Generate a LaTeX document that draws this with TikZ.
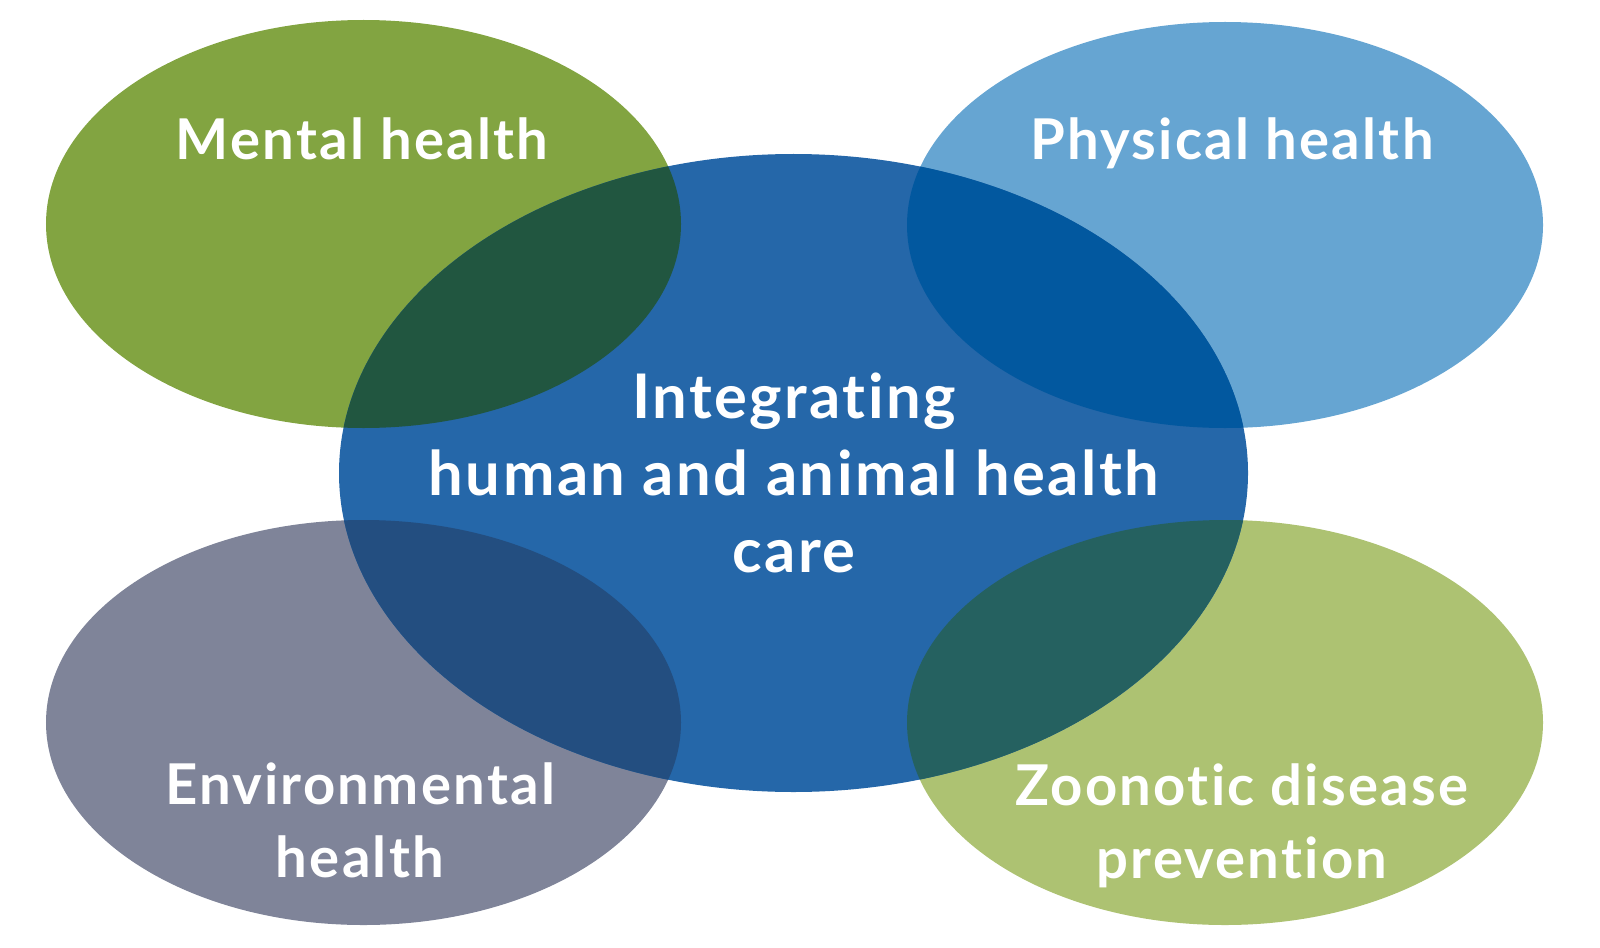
\documentclass[tikz,border=0pt]{standalone}
\usepackage{fontspec}
\setmainfont{Lato}[Ligatures=NoCommon, LetterSpace=4]
\definecolor{mentalgreen}{HTML}{82A441}
\definecolor{physblue}{HTML}{66A5D2}
\definecolor{envgrey}{HTML}{7F8499}
\definecolor{zoogreen}{HTML}{ADC272}
\definecolor{coreblue}{HTML}{2567A9}
\definecolor{mentaldark}{HTML}{215640}
\definecolor{physdark}{HTML}{02589F}
\definecolor{envdark}{HTML}{234E80}
\definecolor{zoodark}{HTML}{256160}
\begin{document}
\begin{tikzpicture}[
	label text/.style={text=white, align=center, inner sep=0pt, font=\bfseries\fontsize{16}{20.8}\selectfont},
	core text/.style={label text, font=\bfseries\fontsize{17.5}{21.9}\selectfont}]
		%%%%% START %%%%%
		\useasboundingbox (0, 0) rectangle (16, -9.47);
		
		\fill[mentalgreen] (3.635, -2.24) ellipse (3.175cm and 2.04cm);
		\fill[physblue] (12.25, -2.25) ellipse (3.18cm and 2.03cm);
		\fill[envgrey] (3.635, -7.225) ellipse (3.175cm and 2.025cm);
		\fill[zoogreen] (12.25, -7.225) ellipse (3.18cm and 2.025cm);
		
		\fill[coreblue] (7.935, -4.73) ellipse (4.545cm and 3.19cm);
		
		\begin{scope}
			\clip (7.935, -4.73) ellipse (4.545cm and 3.19cm);
			\fill[mentaldark] (3.635, -2.24) ellipse (3.175cm and 2.04cm);
			\fill[physdark] (12.25, -2.25) ellipse (3.18cm and 2.03cm);
			\fill[envdark] (3.635, -7.225) ellipse (3.175cm and 2.025cm);
			\fill[zoodark] (12.25, -7.225) ellipse (3.18cm and 2.025cm);
		\end{scope}
		
		\node[label text, anchor=base] (mental) at (3.62, -1.60) {Mental health};
		\node[label text, anchor=base] (physical) at (12.32, -1.60) {Physical health};
		\node[label text] (environmental) at (3.60, -8.20) {Environmental\\health};
		\node[label text] (zoonotic) at (12.42, -8.255) {Zoonotic disease\\prevention};
		
		\node[core text] (core) at (7.94, -4.73) {Integrating\\human and animal health\\care};
		
		%%%%% END %%%%%
\end{tikzpicture}
\end{document}
